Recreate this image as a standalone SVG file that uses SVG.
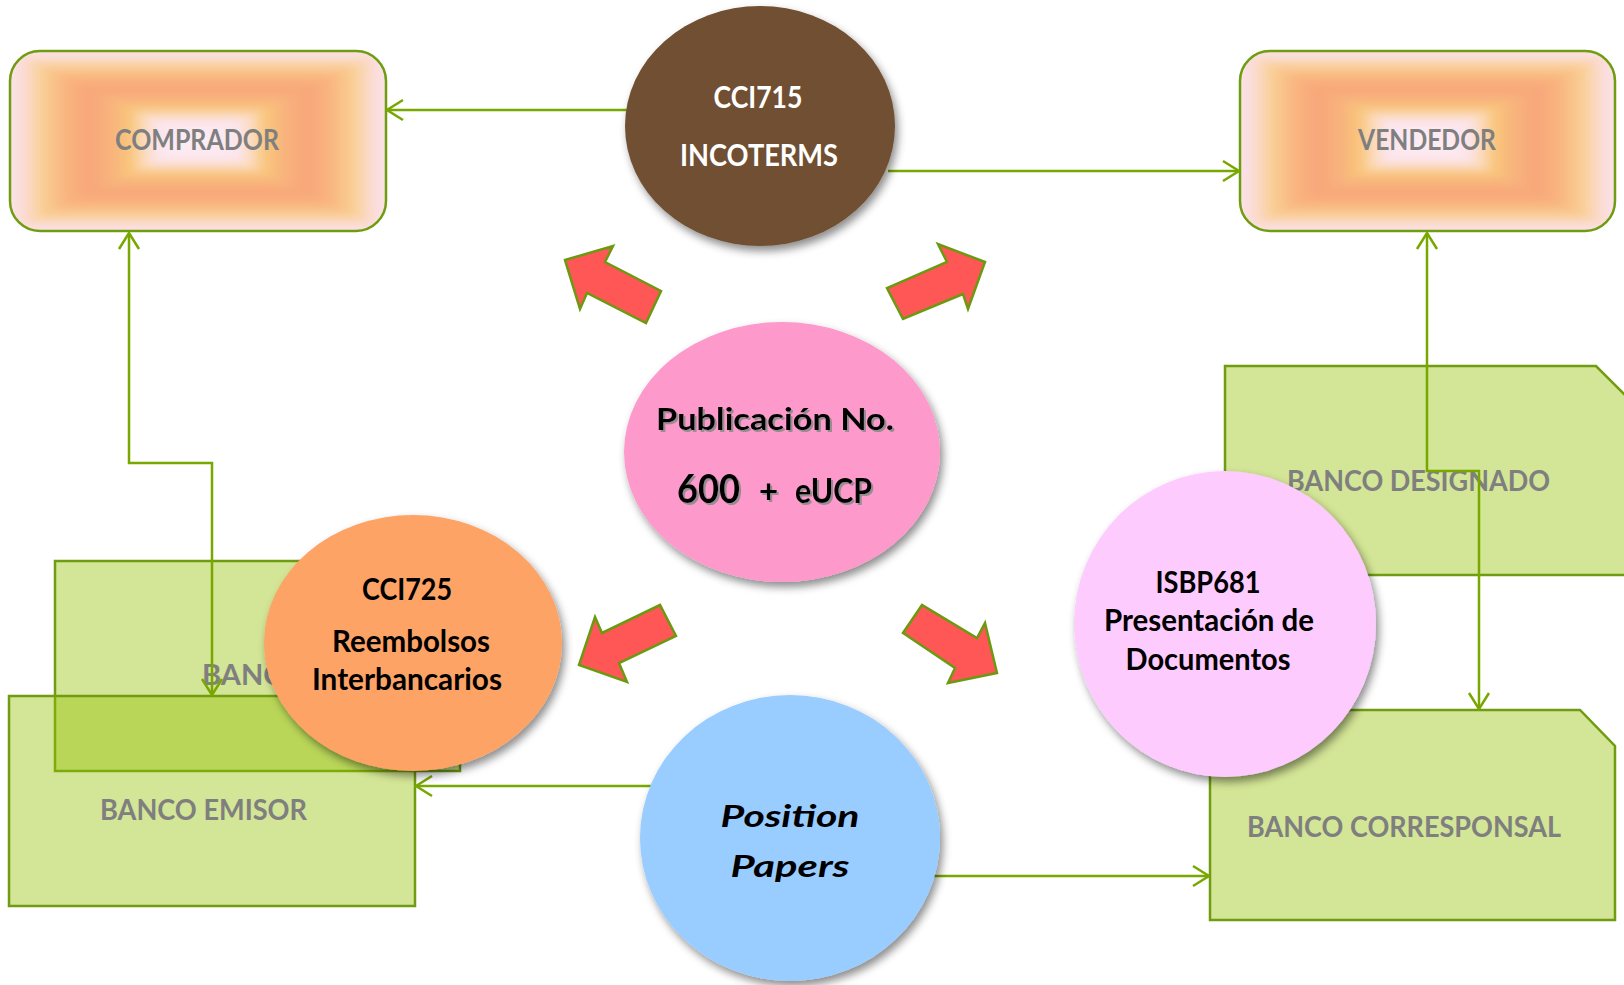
<svg xmlns="http://www.w3.org/2000/svg" xmlns:xlink="http://www.w3.org/1999/xlink" width="1624" height="985" viewBox="0 0 1624 985">
<defs>
<style>
.lbl{font-family:Lato,"Liberation Sans",sans-serif;font-weight:700;fill:#7f7f7f;font-size:29px}
.blk{font-family:Lato,"Liberation Sans",sans-serif;font-weight:700;fill:#000;font-size:31px;text-anchor:middle}
.wht{font-family:Lato,"Liberation Sans",sans-serif;font-weight:700;fill:#fff;font-size:30px;text-anchor:middle}
.bank{fill:#94c001;fill-opacity:.41;stroke:#6f9c10;stroke-width:2.5}
.box{fill:none;stroke:#6f9c10;stroke-width:2.5}
.conn{fill:none;stroke:#78a800;stroke-width:2.5;marker-end:url(#arr)}
.red{fill:#ff5656;stroke:#6b9a10;stroke-width:2.5;stroke-linejoin:miter}
.tri{shape-rendering:crispEdges}
</style>
<linearGradient id="gT" x1="0" y1="0" x2="0" y2="1">
<stop offset="0" stop-color="#fbe3ea"/>
<stop offset="0.07" stop-color="#fbdcd6"/>
<stop offset="0.17" stop-color="#f9d095"/>
<stop offset="0.30" stop-color="#f9b47e"/>
<stop offset="0.42" stop-color="#f8a67a"/>
<stop offset="0.54" stop-color="#f8b37b"/>
<stop offset="0.64" stop-color="#f9c67c"/>
<stop offset="0.72" stop-color="#fbdcc0"/>
<stop offset="0.79" stop-color="#fce5ee"/>
<stop offset="1" stop-color="#fdeef5"/>
</linearGradient>
<linearGradient id="gB" xlink:href="#gT" x1="0" y1="1" x2="0" y2="0"/>
<linearGradient id="gL" xlink:href="#gT" x1="0" y1="0" x2="1" y2="0"/>
<linearGradient id="gR" xlink:href="#gT" x1="1" y1="0" x2="0" y2="0"/>
<marker id="arr" viewBox="-20 -12 22 24" refX="0" refY="0" markerWidth="22" markerHeight="24" markerUnits="userSpaceOnUse" orient="auto-start-reverse">
<path d="M-16,-10 L0,0 L-16,10" fill="none" stroke="#78a800" stroke-width="2.5"/>
</marker>
<filter id="sh" x="-20%" y="-20%" width="145%" height="150%">
<feDropShadow dx="3" dy="5" stdDeviation="4" flood-color="#000" flood-opacity="0.45"/>
</filter>
<filter id="tsh" x="-10%" y="-20%" width="120%" height="150%">
<feDropShadow dx="2" dy="2" stdDeviation="0.6" flood-color="#8a8a8a" flood-opacity="0.9"/>
</filter>
<filter id="soft" x="-5%" y="-5%" width="110%" height="110%">
<feGaussianBlur stdDeviation="4"/>
</filter>
<clipPath id="cpC"><rect x="10" y="51" width="376" height="180" rx="30"/></clipPath>
<clipPath id="cpV"><rect x="1240" y="51" width="375" height="180" rx="30"/></clipPath>
</defs>
<rect width="1624" height="985" fill="#fff"/>

<g id="banco-pagador">
<rect class="bank" x="55" y="561" width="405" height="210"/>
<text class="lbl" x="202" y="685">BANC</text>
</g>
<g id="banco-emisor">
<rect class="bank" x="9" y="696" width="406" height="210"/>
<text class="lbl" x="100" y="820" textLength="207" lengthAdjust="spacingAndGlyphs">BANCO EMISOR</text>
</g>
<g id="banco-designado">
<polygon class="bank" points="1225,366 1596,366 1650,420 1650,575 1225,575"/>
<text class="lbl" x="1287" y="491" textLength="263" lengthAdjust="spacingAndGlyphs">BANCO DESIGNADO</text>
</g>
<g id="banco-corresponsal">
<polygon class="bank" points="1210,710 1580,710 1615,746 1615,920 1210,920"/>
<text class="lbl" x="1247" y="837" textLength="314" lengthAdjust="spacingAndGlyphs">BANCO CORRESPONSAL</text>
</g>

<g id="comprador">
<rect x="10" y="51" width="376" height="180" rx="30" fill="#fbe3ea"/>
<g clip-path="url(#cpC)">
<g filter="url(#soft)">
<polygon class="tri" points="10,51 386,51 198,141" fill="url(#gT)"/>
<polygon class="tri" points="10,231 386,231 198,141" fill="url(#gB)"/>
<polygon class="tri" points="10,51 10,231 198,141" fill="url(#gL)"/>
<polygon class="tri" points="386,51 386,231 198,141" fill="url(#gR)"/>
</g>
</g>
<rect class="box" x="10" y="51" width="376" height="180" rx="30"/>
<text class="lbl" x="197" y="150" text-anchor="middle" textLength="164" lengthAdjust="spacingAndGlyphs">COMPRADOR</text>
</g>
<g id="vendedor">
<rect x="1240" y="51" width="375" height="180" rx="30" fill="#fbe3ea"/>
<g clip-path="url(#cpV)">
<g filter="url(#soft)">
<polygon class="tri" points="1240,51 1615,51 1427.5,141" fill="url(#gT)"/>
<polygon class="tri" points="1240,231 1615,231 1427.5,141" fill="url(#gB)"/>
<polygon class="tri" points="1240,51 1240,231 1427.5,141" fill="url(#gL)"/>
<polygon class="tri" points="1615,51 1615,231 1427.5,141" fill="url(#gR)"/>
</g>
</g>
<rect class="box" x="1240" y="51" width="375" height="180" rx="30"/>
<text class="lbl" x="1427" y="150" text-anchor="middle" textLength="138" lengthAdjust="spacingAndGlyphs">VENDEDOR</text>
</g>

<g id="connectors">
<path class="conn" d="M627,110 L387,110"/>
<path class="conn" d="M888,171 L1239,171"/>
<path class="conn" style="marker-start:url(#arr)" d="M129,233 V463 H212 V695"/>
<path class="conn" style="marker-start:url(#arr)" d="M1427,233 V471 H1479 V709"/>
<path class="conn" d="M651,786 L416,786"/>
<path class="conn" d="M934,876 L1209,876"/>
</g>

<g id="cci715">
<ellipse cx="760" cy="126" rx="135" ry="120" fill="#6f4f32" filter="url(#sh)"/>
<text class="wht" x="758" y="108" textLength="89" lengthAdjust="spacingAndGlyphs">CCI715</text>
<text class="wht" x="759" y="166" textLength="158" lengthAdjust="spacingAndGlyphs">INCOTERMS</text>
</g>

<g id="publicacion">
<ellipse cx="782" cy="452" rx="158" ry="130" fill="#fd99cb" filter="url(#sh)"/>
<g filter="url(#tsh)">
<text class="blk" x="775" y="430" font-size="36" textLength="238" lengthAdjust="spacingAndGlyphs">Publicación No.</text>
<text class="blk" y="503" style="text-anchor:start"><tspan x="677" font-size="41" textLength="63" lengthAdjust="spacingAndGlyphs">600</tspan><tspan x="759" font-size="33">+</tspan><tspan x="795" font-size="34" textLength="77" lengthAdjust="spacingAndGlyphs">eUCP</tspan></text>
</g>
</g>

<g id="cci725">
<ellipse cx="413" cy="643" rx="149" ry="128" fill="#fda365" filter="url(#sh)"/>
<text class="blk" x="407" y="600" textLength="90" lengthAdjust="spacingAndGlyphs">CCI725</text>
<text class="blk" x="411" y="652" textLength="158" lengthAdjust="spacingAndGlyphs">Reembolsos</text>
<text class="blk" x="407" y="690" textLength="190" lengthAdjust="spacingAndGlyphs">Interbancarios</text>
</g>

<g id="isbp681">
<ellipse cx="1225" cy="624" rx="151" ry="153" fill="#fdcbfd" filter="url(#sh)"/>
<text class="blk" x="1208" y="593" textLength="105" lengthAdjust="spacingAndGlyphs">ISBP681</text>
<text class="blk" x="1209" y="631" textLength="210" lengthAdjust="spacingAndGlyphs">Presentación de</text>
<text class="blk" x="1208" y="670" textLength="165" lengthAdjust="spacingAndGlyphs">Documentos</text>
</g>

<g id="position-papers">
<ellipse cx="790" cy="838" rx="150" ry="143" fill="#99ccff" filter="url(#sh)"/>
<text class="blk" x="790" y="827" font-size="42" font-style="italic" textLength="139" lengthAdjust="spacingAndGlyphs">Position</text>
<text class="blk" x="790" y="877" font-size="42" font-style="italic" textLength="119" lengthAdjust="spacingAndGlyphs">Papers</text>
</g>

<g id="flechas">
<polygon class="red" points="565,260 613,246 605,262 661,291 646,323 587,293 580,309"/>
<polygon class="red" points="985,262 938,244 947,262 887,288 903,319 963,294 968,309"/>
<polygon class="red" points="579,665 595,617 602,633 660,605 676,636 619,663 627,682"/>
<polygon class="red" points="997,673 985,623 977,638 922,605 903,633 955,668 948,683"/>
</g>
</svg>
